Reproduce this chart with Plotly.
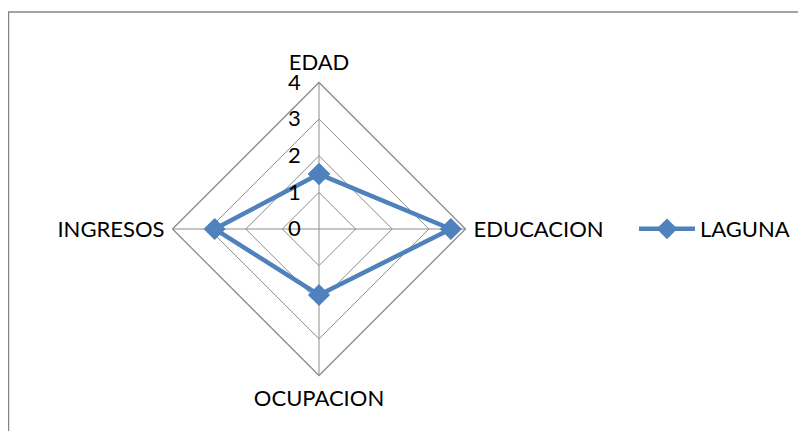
import plotly.graph_objects as go

# ── Data ─────────────────────────────────────────────
categories = ['EDAD', 'EDUCACION', 'OCUPACION', 'INGRESOS']
laguna = [1.5, 3.6, 1.8, 2.85]
radial_ticks = [0, 1, 2, 3, 4]

# page body has an 8px margin, so the figure is sized to fill the window exactly
W, H = 790, 423
cx, cy, rad = 311, 221, 146.5   # centre / radius of the radar in figure pixels

grid_col = '#8c8c8c'
blue = '#4F81BD'
font = dict(family='Lato, Open Sans, sans-serif', size=22, color='#000000')

fig = go.Figure()
fig.add_trace(go.Scatterpolar(
    r=laguna + laguna[:1],
    theta=categories + categories[:1],
    mode='lines+markers',
    name='LAGUNA',
    line=dict(color=blue, width=4.5),
    marker=dict(symbol='diamond', size=17, color=blue),
))

fig.update_layout(
    width=W, height=H,
    margin=dict(l=0, r=0, t=0, b=0),
    paper_bgcolor='white',
    font=font,
    polar=dict(
        domain=dict(x=[(cx - rad) / W, (cx + rad) / W],
                    y=[(H - cy - rad) / H, (H - cy + rad) / H]),
        gridshape='linear',
        bgcolor='white',
        radialaxis=dict(
            range=[0, 4], tickvals=radial_ticks, angle=90,
            side='counterclockwise', tickangle=90,
            showline=False, gridcolor=grid_col, gridwidth=1.3,
            ticks='outside', ticklen=10, tickcolor='rgba(0,0,0,0)',
            tickfont=font,
        ),
        angularaxis=dict(
            rotation=90, direction='clockwise',
            showline=True, linecolor=grid_col, linewidth=1.3,
            gridcolor=grid_col, gridwidth=1.3,
            ticks='outside', ticklen=3, tickcolor='rgba(0,0,0,0)',
            tickfont=font,
        ),
    ),
    showlegend=True,
    legend=dict(x=626 / W, y=(H - 221) / H, yanchor='middle', xanchor='left',
                itemwidth=56, font=font, bgcolor='rgba(0,0,0,0)'),
    shapes=[dict(type='rect', xref='paper', yref='paper',
                 x0=0.5 / W, x1=1.05, y0=-0.05, y1=1 - 4 / H,
                 line=dict(color='#868686', width=1.5))],
)

fig.write_html('out.html')
